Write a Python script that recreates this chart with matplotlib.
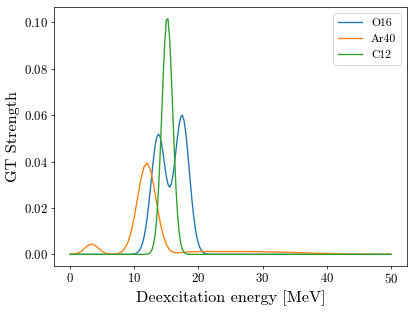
import numpy as np
import matplotlib
matplotlib.use('Agg')
import matplotlib.pyplot as plt

# Fonte tipo LaTeX
plt.rcParams['font.family'] = 'serif'
plt.rcParams['font.serif'] = ['cmr10']
plt.rcParams['mathtext.fontset'] = 'cm'
plt.rcParams['axes.formatter.use_mathtext'] = True

# Dados
x_o16 = [0, 9.5, 10.0, 10.25, 10.5, 10.75, 11.0, 11.25, 11.5, 11.75, 12.0,
         12.25, 12.5, 12.75, 13.0, 13.25, 13.5, 13.75, 14.0, 14.25, 14.5,
         14.75, 15.0, 15.25, 15.5, 15.75, 16.0, 16.25, 16.5, 16.75, 17.0,
         17.25, 17.5, 17.75, 18.0, 18.25, 18.5, 18.75, 19.0, 19.25, 19.5,
         19.75, 20.0, 20.25, 20.5, 20.75, 21.0, 21.25, 21.5, 22.0, 50]
y_o16 = [0, 0, 0.0002, 0.0004, 0.0008, 0.0015, 0.0027, 0.0045, 0.0071, 0.0108, 0.0155,
         0.0213, 0.0279, 0.0348, 0.0413, 0.0468, 0.0504, 0.0518, 0.0509, 0.0478, 0.0433,
         0.0383, 0.0336, 0.0303, 0.0290, 0.0301, 0.0334, 0.0385, 0.0447, 0.0509, 0.0560,
         0.0593, 0.0600, 0.0578, 0.0531, 0.0465, 0.0388, 0.0309, 0.0233, 0.0168, 0.0115,
         0.0075, 0.0047, 0.0028, 0.0016, 0.0008, 0.0004, 0.0002, 0.0001, 0, 0]

x_ar40 = [0, 0.5, 1.0, 1.5, 2.0, 2.5, 3.0, 3.5, 4.0, 4.5, 5.0, 5.5, 6.0, 6.5,
          7.0, 7.5, 8.0, 8.5, 9.0, 9.5, 10.0, 10.5, 11.0, 11.5, 12.0, 12.5,
          13.0, 13.5, 14.0, 14.5, 15.0, 15.5, 16.0, 16.5, 17.0, 17.5, 18, 19,
          20, 22, 25, 28, 30, 32, 34, 36, 38, 40, 42, 45, 50]
y_ar40 = [0, 0.0001, 0.0004, 0.0009, 0.0019, 0.0032, 0.0042, 0.0044, 0.0036, 0.0024,
          0.0013, 0.0005, 0.0002, 0.0001, 0.0001, 0.0004, 0.0010, 0.0024, 0.0050, 0.0096,
          0.0161, 0.0241, 0.0319, 0.0376, 0.0394, 0.0366, 0.0302, 0.0221, 0.0144, 0.0083,
          0.0043, 0.0019, 0.0010, 0.0007, 0.0007, 0.0008, 0.0010, 0.0011, 0.0012, 0.0012,
          0.0012, 0.0012, 0.0011, 0.0010, 0.0009, 0.0007, 0.0005, 0.0004, 0.0002, 0.0001, 0]

x_c12 = [0, 11.5, 11.75, 12.0, 12.25, 12.5, 12.75, 13.0, 13.25, 13.5, 13.75,
         14.0, 14.25, 14.5, 14.75, 15.0, 15.25, 15.5, 15.75, 16.0, 16.25,
         16.5, 16.75, 17.0, 17.25, 17.5, 17.75, 18.0, 18.25, 18.5, 50]
y_c12 = [0, 0, 0.00003, 0.0001, 0.0003, 0.0008, 0.0019, 0.0042, 0.0084, 0.0155, 0.0263,
         0.0408, 0.0582, 0.0762, 0.0913, 0.1010, 0.1016, 0.0937, 0.0795, 0.0619, 0.0442,
         0.0289, 0.0173, 0.0096, 0.0048, 0.0022, 0.0009, 0.0004, 0.0001, 0, 0]

fig, ax = plt.subplots(figsize=(6.4, 4.8), dpi=65)
ax.plot(x_o16, y_o16, label='O16')
ax.plot(x_ar40, y_ar40, label='Ar40')
ax.plot(x_c12, y_c12, label='C12')

ax.set_xlabel('Deexcitation energy [MeV]', fontsize=18)
ax.set_ylabel('GT Strength', fontsize=18)
ax.tick_params(labelsize=14)
ax.legend(fontsize=13)

plt.subplots_adjust(left=0.130, right=0.978, bottom=0.147, top=0.978)
plt.savefig('out.png', dpi=65)
